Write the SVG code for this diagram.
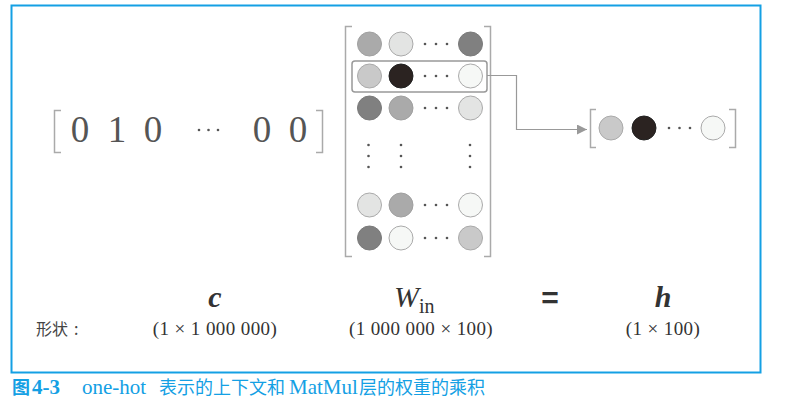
<svg xmlns="http://www.w3.org/2000/svg" width="790" height="411" viewBox="0 0 790 411">
<defs>
<style>
.frame{fill:none;stroke:#14a0e4;stroke-width:2}
.br{fill:none;stroke:#aaa;stroke-width:1.5}
.c{stroke:#aaa;stroke-width:1}
.d{fill:#555}
.g1{fill:#aaaaaa;stroke:#a0a0a0}
.g2{fill:#e3e4e3;stroke:#aaa}
.g3{fill:#808080;stroke:#7a7a7a}
.g4{fill:#c9c9c9;stroke:#aaa}
.g5{fill:#2b2321;stroke:#222}
.g6{fill:#f6f8f6;stroke:#aaa}
.num{font-family:"Liberation Serif",serif;font-size:37px;fill:#555;text-anchor:middle}
.par{font-family:"Liberation Serif",serif;font-size:19px;fill:#333;text-anchor:middle;letter-spacing:0.4px}
.math{font-family:"Liberation Serif",serif;fill:#333}
.cap{font-size:18px;fill:#14a0e4}
</style>
<marker id="arr" viewBox="0 0 10 10" refX="10" refY="5" markerWidth="10" markerHeight="10" markerUnits="userSpaceOnUse" orient="auto">
<path d="M0,0 L10,5 L0,10 z" fill="#999"/>
</marker>
</defs>
<rect class="frame" x="11.5" y="5.5" width="749" height="367"/>

<g id="onehot">
<path class="br" d="M61,110.5 H54.5 V152.5 H61"/>
<path class="br" d="M316,110.5 H322.5 V152.5 H316"/>
<text class="num" x="80" y="142">0</text>
<text class="num" x="117" y="142">1</text>
<text class="num" x="153" y="142">0</text>
<circle class="d" cx="199" cy="130" r="1.3"/>
<circle class="d" cx="208.5" cy="130" r="1.3"/>
<circle class="d" cx="218" cy="130" r="1.3"/>
<text class="num" x="262" y="142">0</text>
<text class="num" x="298" y="142">0</text>
</g>

<g id="matrix">
<path class="br" d="M352,26.5 H345.5 V256.5 H352"/>
<path class="br" d="M484,26.5 H490.5 V256.5 H484"/>
<g class="c">
<circle class="g1" cx="369.5" cy="44" r="12"/>
<circle class="g2" cx="401" cy="44" r="12"/>
<circle class="g3" cx="470.5" cy="44" r="12"/>
<circle class="g4" cx="369.5" cy="76" r="12"/>
<circle class="g5" cx="401" cy="76" r="12"/>
<circle class="g6" cx="470.5" cy="76" r="12"/>
<circle class="g3" cx="369.5" cy="108" r="12"/>
<circle class="g1" cx="401" cy="108" r="12"/>
<circle class="g2" cx="470.5" cy="108" r="12"/>
<circle class="g2" cx="369.5" cy="205" r="12"/>
<circle class="g1" cx="401" cy="205" r="12"/>
<circle class="g6" cx="470.5" cy="205" r="12"/>
<circle class="g3" cx="369.5" cy="238" r="12"/>
<circle class="g6" cx="401" cy="238" r="12"/>
<circle class="g4" cx="470.5" cy="238" r="12"/>
</g>
<g class="d">
<circle cx="425" cy="44" r="1.3"/><circle cx="436" cy="44" r="1.3"/><circle cx="447" cy="44" r="1.3"/>
<circle cx="425" cy="76" r="1.3"/><circle cx="436" cy="76" r="1.3"/><circle cx="447" cy="76" r="1.3"/>
<circle cx="425" cy="108" r="1.3"/><circle cx="436" cy="108" r="1.3"/><circle cx="447" cy="108" r="1.3"/>
<circle cx="425" cy="205" r="1.3"/><circle cx="436" cy="205" r="1.3"/><circle cx="447" cy="205" r="1.3"/>
<circle cx="425" cy="238" r="1.3"/><circle cx="436" cy="238" r="1.3"/><circle cx="447" cy="238" r="1.3"/>
<circle cx="368.5" cy="145" r="1.3"/><circle cx="368.5" cy="156" r="1.3"/><circle cx="368.5" cy="167" r="1.3"/>
<circle cx="401" cy="145" r="1.3"/><circle cx="401" cy="156" r="1.3"/><circle cx="401" cy="167" r="1.3"/>
<circle cx="470" cy="145" r="1.3"/><circle cx="470" cy="156" r="1.3"/><circle cx="470" cy="167" r="1.3"/>
</g>
<rect x="352" y="61" width="135" height="31" rx="3" fill="none" stroke="#999" stroke-width="1.5"/>
</g>

<g id="connectors">
<path d="M487,75.5 H516.5 V129.5 H587" fill="none" stroke="#999" stroke-width="1.2" marker-end="url(#arr)"/>
</g>

<g id="result">
<path class="br" d="M596,109.5 H590.5 V147.5 H596"/>
<path class="br" d="M729,109.5 H735.5 V147.5 H729"/>
<g class="c">
<circle class="g4" cx="611" cy="128" r="12"/>
<circle class="g5" cx="644" cy="128" r="12"/>
<circle class="g6" cx="713" cy="128" r="12"/>
</g>
<g class="d">
<circle cx="669" cy="128" r="1.3"/><circle cx="679.5" cy="128" r="1.3"/><circle cx="690" cy="128" r="1.3"/>
</g>
</g>

<g id="labels">
<text class="math" x="215" y="307" font-size="30" font-style="italic" font-weight="bold" text-anchor="middle">c</text>
<text class="math" x="394" y="307" font-size="30" font-style="italic">W<tspan font-size="20" font-style="normal" dy="6">in</tspan></text>
<text x="550" y="308" font-family="'Liberation Sans',sans-serif" font-size="30" font-weight="bold" fill="#333" text-anchor="middle">=</text>
<text class="math" x="663" y="307" font-size="30" font-style="italic" font-weight="bold" text-anchor="middle">h</text>
<text x="36" y="335" font-family="'Noto Sans CJK SC',sans-serif" font-size="16" fill="#444">形状<tspan dx="6">:</tspan></text>
<text class="par" x="215" y="335">(1 × 1 000 000)</text>
<text class="par" x="421" y="335">(1 000 000 × 100)</text>
<text class="par" x="663" y="335">(1 × 100)</text>
</g>

<text class="cap" y="394" font-family="'Liberation Serif','Noto Sans CJK SC',serif"><tspan x="12" font-family="'Noto Sans CJK SC',sans-serif" font-weight="bold">图</tspan><tspan x="32" font-size="21" font-weight="bold">4-3</tspan><tspan x="82" font-size="21">one-hot</tspan><tspan x="159" font-family="'Noto Sans CJK SC',sans-serif">表示的上下文和</tspan><tspan x="289" font-size="21">MatMul</tspan><tspan x="359" font-family="'Noto Sans CJK SC',sans-serif">层的权重的乘积</tspan></text>
</svg>
